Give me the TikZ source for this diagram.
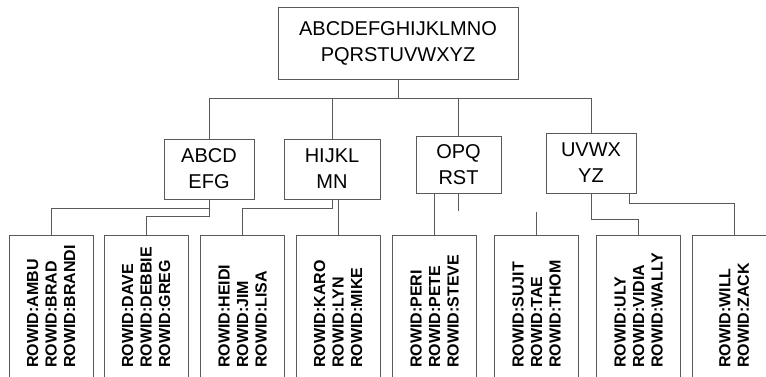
\documentclass[tikz,border=0pt]{standalone}
\usepackage{fontspec}
\setmainfont{Liberation Sans}
\usepackage{xcolor}

\begin{document}
\begin{tikzpicture}[x=1pt,y=-1pt,
    line/.style={draw=black!65,line width=0.8pt},
    box/.style={line,inner sep=0pt,align=center,font=\fontsize{20}{26}\selectfont},
    leaf/.style={line,anchor=north,minimum width=84pt,minimum height=160pt},
    rowid/.style={rotate=90,anchor=west,inner sep=0pt,align=left,font=\bfseries\fontsize{16}{18.5}\selectfont}]
\path[use as bounding box,clip] (0,0) rectangle (766,376);

% index blocks
\node[box,minimum width=240pt,minimum height=72pt] (root) at (398,43) {ABCDEFGHIJKLMNO\\PQRSTUVWXYZ};
\node[box,minimum width=90pt,minimum height=60pt] (abcd) at (209,169) {ABCD\\EFG};
\node[box,minimum width=96pt,minimum height=60pt] (hijkl) at (332,169) {HIJKL\\MN};
\node[box,minimum width=85pt,minimum height=57pt] (opq) at (458.5,164.5) {OPQ\\RST};
\node[box,minimum width=90pt,minimum height=60pt] (uvwx) at (591,163) {UVWX\\YZ};

% leaf blocks
\foreach \n/\x/\ids in {
    1/51/{ROWID:AMBU\\ROWID:BRAD\\ROWID:BRANDI},
    2/146/{ROWID:DAVE\\ROWID:DEBBIE\\ROWID:GREG},
    3/242.5/{ROWID:HEIDI\\ROWID:JIM\\ROWID:LISA},
    4/338/{ROWID:KARO\\ROWID:LYN\\ROWID:MIKE},
    5/434.5/{ROWID:PERI\\ROWID:PETE\\ROWID:STEVE},
    6/536.5/{ROWID:SUJIT\\ROWID:TAE\\ROWID:THOM},
    7/638.5/{ROWID:ULY\\ROWID:VIDIA\\ROWID:WALLY},
    8/734/{ROWID:WILL\\ROWID:ZACK}} {
  \node[leaf] (l\n) at (\x,235) {};
  \node[rowid] (t\n) at ([yshift=-133pt]l\n.north) {\ids};
}

% root to branches
\draw[line] (root.south) -- ++(0,19) coordinate (bar);
\draw[line] (bar) -| (abcd.north);
\draw[line] (bar) -| (hijkl.north);
\draw[line] (bar) -| (opq.north);
\draw[line] (bar) -| (uvwx.north);

% branches to leaves
\draw[line] (abcd.south) -- ++(0,9) -| (l1.north);
\draw[line] (abcd.south) -- ++(0,17) -| (l2.north);
\draw[line] (hijkl.south) -- ++(0,9) -| (l3.north);
\draw[line] (l4.north) -- (l4.north |- hijkl.south);
\draw[line] (l5.north) -- (l5.north |- opq.south);
\draw[line] (opq.south) -- ++(0,18) coordinate (opqend);
\draw[line] (l6.north) -- ++(0,-23) coordinate (l6end);
\draw[line] (uvwx.south) -- ++(0,26) -| (l7.north);
\draw[line] ([xshift=38pt]uvwx.south) -- ++(0,10) -| (l8.north);
\end{tikzpicture}
\end{document}
